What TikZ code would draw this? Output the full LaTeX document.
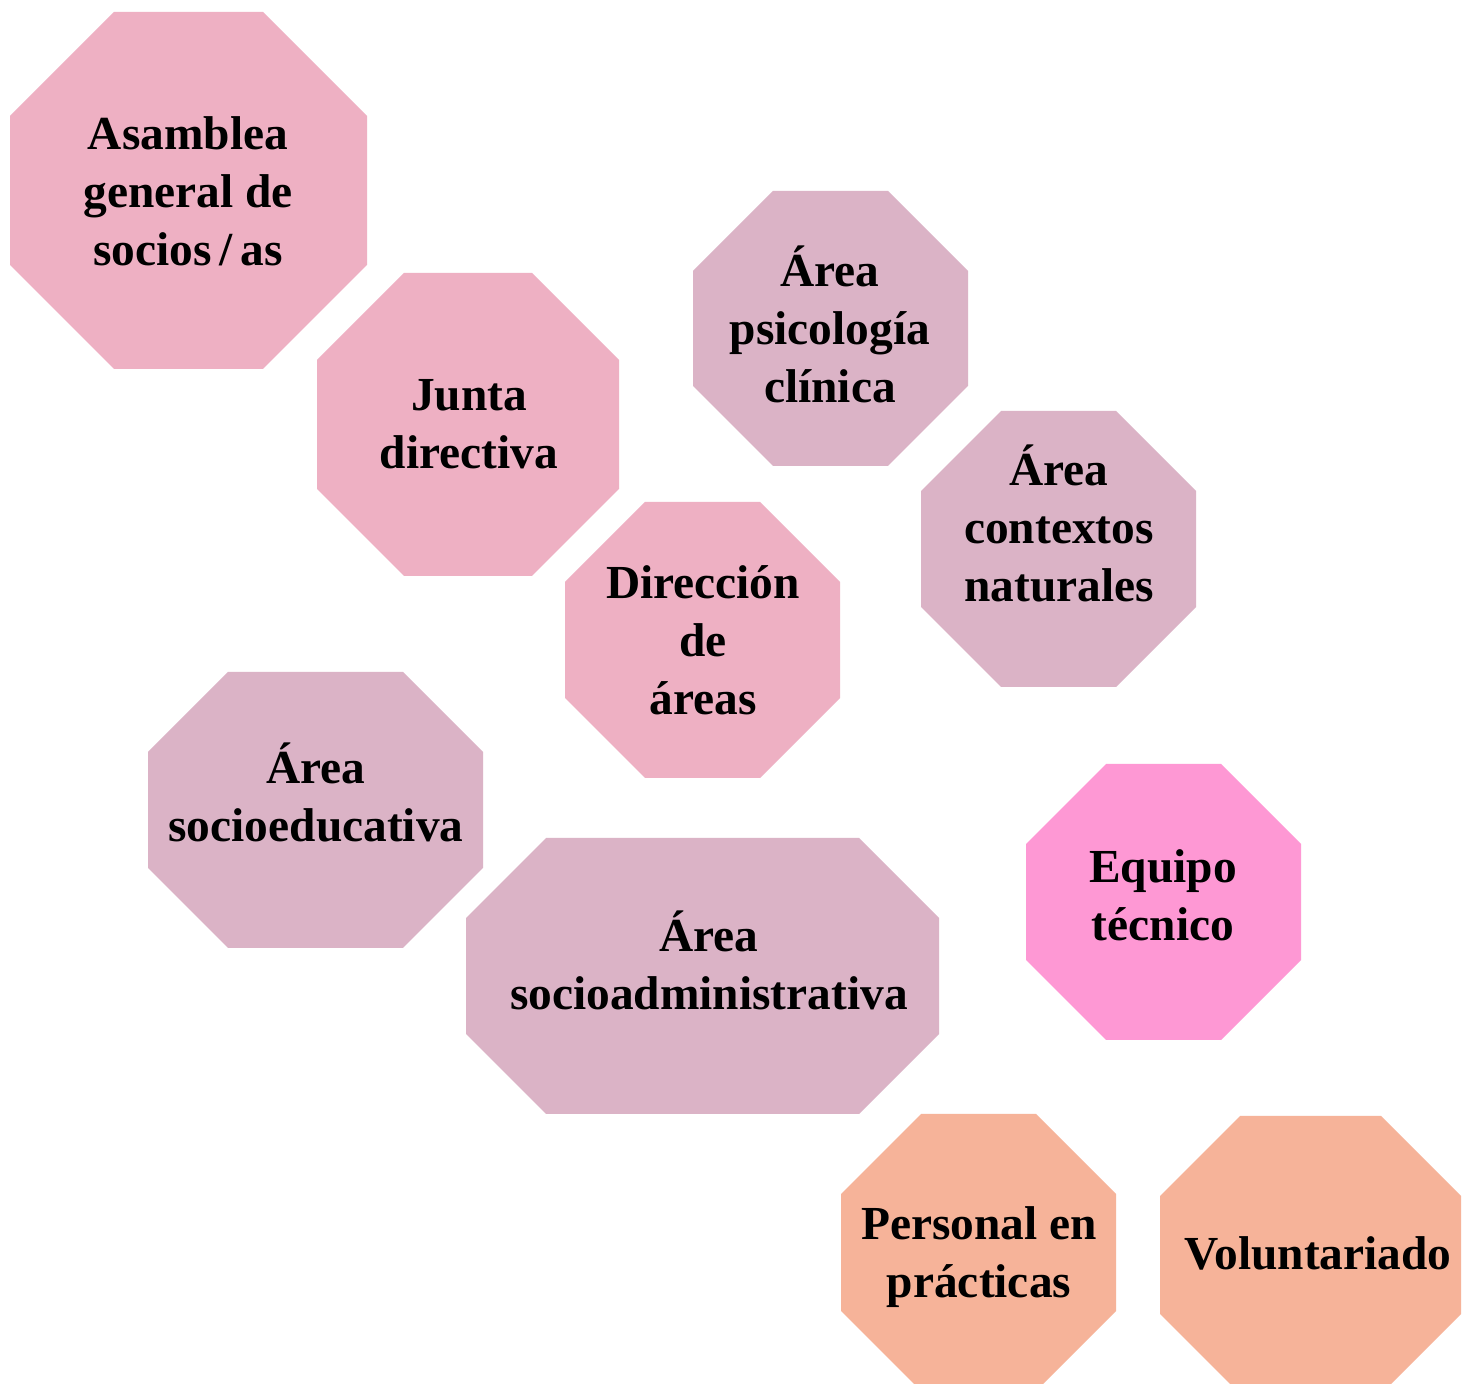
\documentclass[tikz,border=0pt]{standalone}
\usepackage{fontspec}
\setmainfont{Liberation Serif}
\definecolor{cpink}{HTML}{EEB0C3}
\definecolor{cmauve}{HTML}{DBB3C6}
\definecolor{chot}{HTML}{FE98D4}
\definecolor{csalmon}{HTML}{F6B399}
\newcommand\octa[6]{%
  \fill[#6] ({#1+#5},#2) -- ({#3-#5},#2) -- (#3,{#2+#5}) -- (#3,{#4-#5}) --
    ({#3-#5},#4) -- ({#1+#5},#4) -- (#1,{#4-#5}) -- (#1,{#2+#5}) -- cycle;}
\tikzset{lbl/.style={align=center, inner sep=0pt, text=black,
  font=\bfseries\fontsize{23.7}{29}\selectfont}}
\begin{document}
\begin{tikzpicture}[x=0.5pt,y=-0.5pt]
\clip (0,0) rectangle (1469,1384);
\fill[white] (0,0) rectangle (1469,1384);
\octa{10}{12}{367}{369}{104}{cpink}
\octa{317}{273}{619}{576}{87}{cpink}
\octa{693}{191}{968}{466}{80}{cmauve}
\octa{921}{411}{1196}{687}{80}{cmauve}
\octa{565}{502}{840}{778}{80}{cpink}
\octa{148}{672}{483}{948}{80}{cmauve}
\octa{466}{838}{939}{1114}{80}{cmauve}
\octa{1026}{764}{1301}{1040}{80}{chot}
\octa{841}{1114}{1116}{1391}{80}{csalmon}
\octa{1160}{1116}{1461}{1394}{80}{csalmon}
\node[lbl] (asamblea) at (188,191) {Asamblea\\general de\\socios\,/\,as};
\node[lbl] (junta) at (469,424) {Junta\\directiva};
\node[lbl] (psico) at (830,324) {Área\\psicología\\clínica};
\node[lbl] (contextos) at (1059,523) {Área\\contextos\\naturales};
\node[lbl] (direccion) at (703,640) {Dirección\\de\\áreas};
\node[lbl] (socioed) at (316,792) {Área\\socioeducativa};
\node[lbl] (socioadm) at (709,960) {Área\\socioadministrativa};
\node[lbl] (equipo) at (1163,895) {Equipo\\técnico};
\node[lbl] (personal) at (979,1257) {Personal en\\prácticas};
\node[lbl] (volunt) at (1318,1253) {Voluntariado};
\end{tikzpicture}
\end{document}
